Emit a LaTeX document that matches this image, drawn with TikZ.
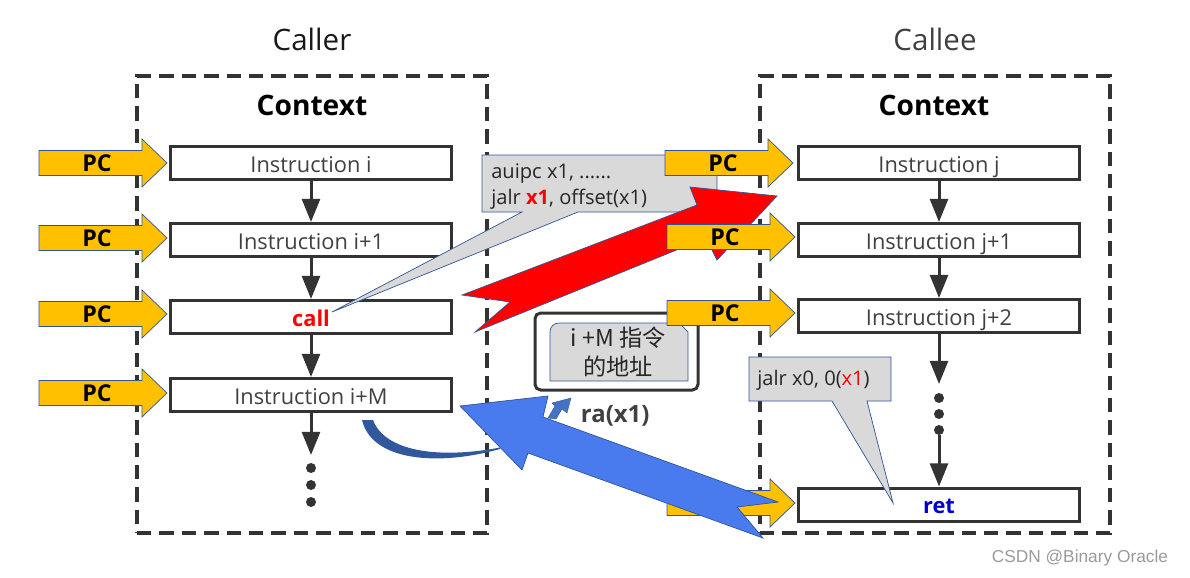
\documentclass[tikz,border=0pt]{standalone}
\usepackage{fontspec}
\setmainfont{Open Sans}
\newfontfamily\cjk{Noto Sans CJK SC}
\newfontfamily\wmfont{Liberation Sans}
\usetikzlibrary{arrows.meta}
\definecolor{pcy}{HTML}{FFC000}
\definecolor{edgeblue}{HTML}{2F5597}
\definecolor{lineblue}{HTML}{4472C4}
\definecolor{bigblue}{HTML}{4A7BEE}
\definecolor{darkline}{HTML}{333333}
\definecolor{txtgray}{HTML}{404040}
\definecolor{callgray}{HTML}{D9D9D9}
\definecolor{retblue}{HTML}{0000CC}
\definecolor{redarrow}{HTML}{FF0000}
\definecolor{wmgray}{HTML}{9A9A9A}
\begin{document}
\begin{tikzpicture}[x=0.025cm,y=-0.025cm,
  ctxbox/.style={draw=darkline, line width=0.08cm, dash pattern=on 0.36cm off 0.2cm, minimum width=350*0.025cm, minimum height=457*0.025cm, inner sep=0},
  ibox/.style={draw=darkline, line width=0.075cm, fill=white, minimum width=281*0.025cm, minimum height=33*0.025cm, inner sep=0, text height=14pt, text depth=1pt, font=\fontsize{15.5}{18}\selectfont, text=txtgray},
  flow/.style={draw=darkline, line width=0.075cm, -{Triangle[width=0.45cm,length=0.58cm]}},
  dotnode/.style={circle, fill=darkline, minimum size=10*0.025cm, inner sep=0},
  title/.style={font=\fontsize{21}{24}\selectfont},
  ctxtitle/.style={font=\fontsize{20}{24}\bfseries\selectfont, text=black},
  shapeedge/.style={draw=edgeblue, line width=0.5pt},
  calltext/.style={font=\fontsize{14.3}{17}\selectfont, text=black!85, inner sep=0},
  pcarrow/.pic={
    \filldraw[fill=pcy, shapeedge] (-128,-12.5) -- (-25,-12.5) -- (-25,-24) -- (0,0) -- (-25,24) -- (-25,12.5) -- (-128,12.5) -- cycle;
    \node[font=\fontsize{16.5}{18}\bfseries\selectfont, text=black] (t) at (-70,0) {PC};
  }
]
\useasboundingbox (0,0) rectangle (1190,578);

% contexts
\node[ctxbox] (callerctx) at (312,304.5) {};
\node[ctxbox] (calleectx) at (935,304.5) {};
\node[title, text=black!90] (callert) at (312,39) {Caller};
\node[title, text=txtgray] (calleet) at (935,39) {Callee};
\node[ctxtitle] (ctxl) at (312,105) {Context};
\node[ctxtitle] (ctxr) at (934,105) {Context};

% caller instructions
\node[ibox] (i1) at (311,163) {Instruction i};
\node[ibox] (i2) at (311,240) {Instruction i+1};
\node[ibox] (i3) at (311,317) {\textcolor{red}{\bfseries call}};
\node[ibox] (i4) at (311,395) {Instruction i+M};
\coordinate (lend) at (311,455);
\node[dotnode] (ld1) at (311,468) {};
\node[dotnode] (ld2) at (311,485) {};
\node[dotnode] (ld3) at (311,502) {};
\draw[flow] (i1) -- (i2);
\draw[flow] (i2) -- (i3);
\draw[flow] (i3) -- (i4);
\draw[flow] (i4) -- (lend);

% callee instructions
\node[ibox] (j1) at (939,163) {Instruction j};
\node[ibox] (j2) at (939,240) {Instruction j+1};
\node[ibox] (j3) at (939,316) {Instruction j+2};
\node[ibox] (ret) at (939,504.5) {\textcolor{retblue}{\bfseries ret}};
\coordinate (rend) at (939,384);
\node[dotnode] (rd1) at (939,398) {};
\node[dotnode] (rd2) at (939,414) {};
\node[dotnode] (rd3) at (939,430) {};
\draw[flow] (j1) -- (j2);
\draw[flow] (j2) -- (j3);
\draw[flow] (j3) -- (rend);
\draw[flow] (rd3) -- (ret);

% left PC arrows
\pic (pcl1) at (167,163) {pcarrow};
\pic (pcl2) at (167,238) {pcarrow};
\pic (pcl3) at (167,314) {pcarrow};
\pic (pcl4) at (167,393) {pcarrow};

% callout 1
\filldraw[fill=callgray, shapeedge] (482,155) -- (717,155) -- (717,212) -- (578,212) -- (332,312) -- (522,212) -- (482,212) -- cycle;
\node[calltext, anchor=base west] (c1a) at (491,178) {auipc x1, ......};
\node[calltext, anchor=base west] (c1b) at (491,204) {jalr \textcolor{red}{\bfseries x1}, offset(x1)};

% right PC arrow 1
\pic (pcr1) at (793,163) {pcarrow};

% address box
\draw[darkline, line width=0.075cm, rounded corners=0.14cm] (535,313) rectangle (698,390);
\filldraw[fill=callgray, shapeedge] (550,381) [rounded corners=0.22cm] -- (550,323) [sharp corners] -- (679,323) -- (688,332) -- (688,381) -- cycle;
\node[font=\cjk\fontsize{16.5}{20.5}\selectfont, text=black!85, align=center] (addr) at (618,352) {i +M 指令\\的地址};

% red call arrow
\filldraw[fill=redarrow, shapeedge] (462,295) -- (697,205) -- (690,187) -- (777,196) -- (717,260) -- (706,238) -- (475,332) -- (510,302) -- cycle;

% right PC arrows 2,3 and ret
\pic (pcr2) at (795,237) {pcarrow};
\pic (pcr3) at (795,313) {pcarrow};
\pic (pcr4) at (795,503) {pcarrow};

% curved return-address arrow
\fill[edgeblue!90!lineblue] (362,420) .. controls (372,462) and (440,466) .. (500,449) -- (500,447.5) .. controls (440,459) and (385,452) .. (373,420) -- cycle;
\filldraw[fill=lineblue, draw=lineblue!80!black, line width=0.3pt] (548,418) -- (555,406) -- (552,403) -- (571,398) -- (567,413) -- (562,409) -- (556,419) -- cycle;
\node[anchor=west, font=\fontsize{17}{20}\bfseries\selectfont, text=txtgray] (ra) at (576,416) {ra(x1)};

% blue return arrow
\filldraw[fill=bigblue, shapeedge] (460,406) -- (548,396) -- (543,417) -- (778,502) -- (737,507) -- (763,538) -- (528,453) -- (522,470) -- cycle;

% callout 2
\filldraw[fill=callgray, shapeedge] (749,357) -- (891,357) -- (891,401) -- (867,401) -- (893,503) -- (832,401) -- (749,401) -- cycle;
\node[calltext, anchor=west] (c2) at (757,380) {jalr x0, 0(\textcolor{red}{x1})};

% watermark
\node[anchor=east, font=\wmfont\fontsize{12.3}{14}\selectfont, text=wmgray] (wm) at (1173,558) {CSDN @Binary Oracle};
\end{tikzpicture}
\end{document}
